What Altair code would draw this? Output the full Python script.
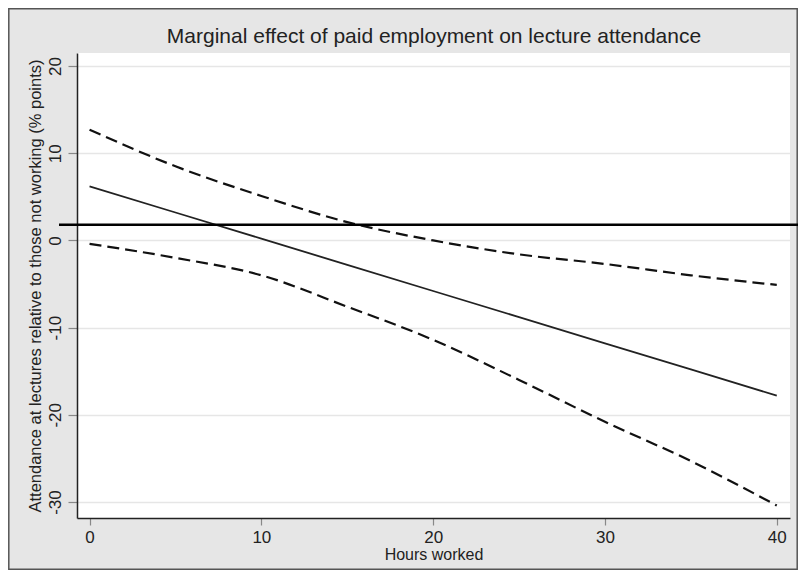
import altair as alt
import pandas as pd

# ---- data ----
hours = [0, 5, 10, 15, 20, 25, 30, 35, 40]
effect = [6.2, 3.2, 0.2, -2.8, -5.8, -8.8, -11.8, -14.8, -17.8]
upper = [12.7, 8.5, 5.1, 2.1, 0.0, -1.6, -2.7, -4.0, -5.1]
lower = [-0.4, -2.0, -4.0, -7.6, -11.4, -16.0, -20.8, -25.3, -30.4]
ref_line = [1.8]
x_ticks = [0, 10, 20, 30, 40]
y_ticks = [-30, -20, -10, 0, 10, 20]

title_text = "Marginal effect of paid employment on lecture attendance"
x_title = "Hours worked"
y_title = "Attendance at lectures relative to those not working (% points)"

FONT = "Liberation Sans"

central_df = pd.DataFrame({"hours": hours, "value": effect})
ci_df = pd.concat([
    pd.DataFrame({"hours": hours, "value": upper, "bound": "upper"}),
    pd.DataFrame({"hours": hours, "value": lower, "bound": "lower"}),
], ignore_index=True)
ref_df = pd.DataFrame({"value": ref_line})
one_df = pd.DataFrame({"k": [0]})

x_scale = alt.Scale(domain=[-0.73, 40.77], nice=False, zero=False)
y_scale = alt.Scale(domain=[-31.83, 21.49], nice=False, zero=False)

x_axis = alt.Axis(
    values=x_ticks, labelExpr="datum.value + ''", title=x_title, grid=False,
    labelFont=FONT, labelFontSize=17, labelColor="#222", labelPadding=4,
    tickSize=7, tickColor="#888", tickWidth=1.2,
    domainColor="#222", domainWidth=1.5,
    titleFont=FONT, titleFontSize=16, titleFontWeight="normal",
    titleColor="#222", titlePadding=1,
)
y_axis = alt.Axis(
    values=y_ticks, labelExpr="datum.value + ''", title=y_title, grid=True,
    gridColor="#e6e6e6", gridWidth=1.5,
    labelFont=FONT, labelFontSize=17, labelColor="#222", labelPadding=4,
    labelAngle=270, labelAlign="center", labelBaseline="bottom",
    tickSize=9, tickColor="#888", tickWidth=1.2,
    domainColor="#222", domainWidth=1.5,
    titleFont=FONT, titleFontSize=16.5, titleFontWeight="normal",
    titleColor="#222", titlePadding=3,
)

X = alt.X("hours:Q", scale=x_scale, axis=x_axis)
Y = alt.Y("value:Q", scale=y_scale, axis=y_axis)

central = alt.Chart(central_df).mark_line(color="#222", strokeWidth=1.8).encode(x=X, y=Y)

ci = alt.Chart(ci_df).mark_line(
    color="#111", strokeWidth=2.2, strokeDash=[12, 6], interpolate="monotone"
).encode(x=X, y=Y, detail="bound:N")

ref = alt.Chart(ref_df).mark_rule(color="black", strokeWidth=2.4).encode(
    y=Y, x=alt.value(-18), x2=alt.value(730)
)

frame = alt.Chart(one_df).mark_rect(
    fillOpacity=0, stroke="#555", strokeWidth=1.5
).encode(
    x=alt.value(-68.2), x2=alt.value(720.2),
    y=alt.value(-44.2), y2=alt.value(516.2),
)

title = alt.Chart(one_df).mark_text(
    font=FONT, fontSize=21, color="#222", align="center", baseline="alphabetic"
).encode(
    x=alt.value(357), y=alt.value(-10), text=alt.datum(title_text)
)

chart = alt.layer(frame, central, ci, ref, title).properties(
    width=713,
    height=465,
    autosize=alt.AutoSizeParams(type="none"),
    padding={"left": 69, "top": 45, "right": 8, "bottom": 52},
    background="#e6e6e6",
).configure_view(stroke=None, fill="white")

chart.save("out.html", embed_options={"renderer": "svg", "actions": False})
